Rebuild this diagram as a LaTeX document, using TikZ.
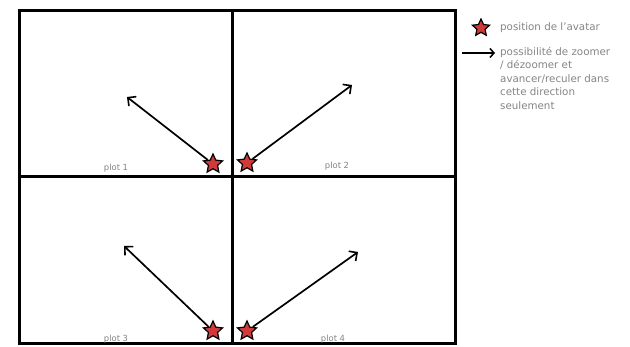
\documentclass[tikz,border=0pt]{standalone}
\usepackage{fontspec}
\setmainfont{DejaVu Sans}
\usetikzlibrary{shapes.geometric,arrows.meta}
\definecolor{starred}{HTML}{D23A3A}
\definecolor{txtgray}{HTML}{858585}
\begin{document}
\begin{tikzpicture}[x=1pt,y=-1pt,
  frame/.style={line width=3pt,black},
  avatar/.style={star,star points=5,star point ratio=2.1,minimum size=20pt,inner sep=0pt,fill=starred,draw=black,line width=1.2pt},
  dirarrow/.style={line width=1.7pt,-{Straight Barb[length=6pt,width=12pt,line width=1.6pt]}},
  plotlabel/.style={font=\fontsize{8.4}{9}\selectfont,text=txtgray,inner sep=0pt},
  legtext/.style={font=\fontsize{10.3}{13.5}\selectfont,text=txtgray,inner sep=0pt,anchor=north west,align=left}]
\useasboundingbox (0,0) rectangle (630,347);
\fill[white] (0,0) rectangle (630,347);
% frame
\draw[frame] (19,11) rectangle (455,344);
\draw[frame] (232,11) -- (232,344);
\draw[frame] (19,177) -- (455,177);
% stars
\node[avatar] (s1) at (213,164) {};
\node[avatar] (s2) at (247,163) {};
\node[avatar] (s3) at (213,331) {};
\node[avatar] (s4) at (247,331) {};
% arrow tips
\coordinate (t1) at (127,97);
\coordinate (t2) at (352,85);
\coordinate (t3) at (124,246);
\coordinate (t4) at (358,252);
\draw[dirarrow] (s1) -- (t1);
\draw[dirarrow] (s2) -- (t2);
\draw[dirarrow] (s3) -- (t3);
\draw[dirarrow] (s4) -- (t4);
% labels
\node[plotlabel] (p1) at (116,168) {plot 1};
\node[plotlabel] (p2) at (337,166) {plot 2};
\node[plotlabel] (p3) at (116,339) {plot 3};
\node[plotlabel] (p4) at (333,339) {plot 4};
% legend
\node[avatar,minimum size=18pt] (ls) at (481,28) {};
\node[legtext,anchor=west] (lt1) at (500,28) {position de l'avatar};
\coordinate (la0) at (462,53);
\coordinate (la1) at (495,53);
\draw[line width=1.7pt,-{Straight Barb[length=4pt,width=9pt,line width=1.5pt]}] (la0) -- (la1);
\node[legtext] (lt2) at (500,47) {possibilité de zoomer\\/ dézoomer et\\avancer/reculer dans\\cette direction\\seulement};
\end{tikzpicture}
\end{document}
